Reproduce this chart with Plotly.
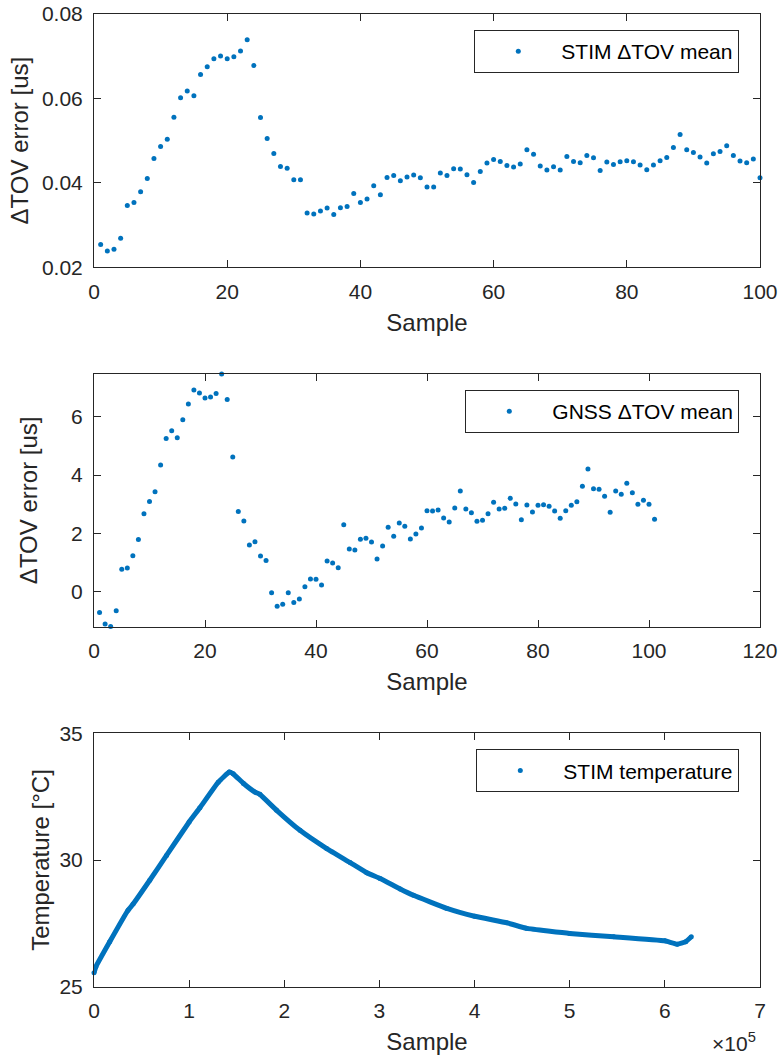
import plotly.graph_objects as go

# ---------------- data ----------------
stim_dtov = [0.02538, 0.02387, 0.02427, 0.02688, 0.03462, 0.03534, 0.03787, 0.04103, 0.04577, 0.04862,
             0.05036, 0.05557, 0.06016, 0.06174, 0.06063, 0.06569, 0.06751, 0.06941, 0.07004, 0.06941,
             0.06988, 0.07123, 0.07391, 0.06783, 0.05549, 0.05051, 0.04696, 0.04387, 0.04348, 0.04071,
             0.04071, 0.03284, 0.03261, 0.03332, 0.03403, 0.03253, 0.03410, 0.03442, 0.03751, 0.03537,
             0.03616, 0.03932, 0.03719, 0.04129, 0.04177, 0.04050, 0.04137, 0.04185, 0.04122, 0.03900,
             0.03900, 0.04232, 0.04177, 0.04335, 0.04327, 0.04193, 0.04011, 0.04272, 0.04469, 0.04556,
             0.04509, 0.04414, 0.04374, 0.04445, 0.04785, 0.04675, 0.04398, 0.04303, 0.04382, 0.04303,
             0.04627, 0.04509, 0.04477, 0.04651, 0.04596, 0.04295, 0.04493, 0.04438, 0.04500, 0.04524,
             0.04500, 0.04422, 0.04311, 0.04422, 0.04524, 0.04603, 0.04840, 0.05148, 0.04785, 0.04722,
             0.04611, 0.04469, 0.04690, 0.04745, 0.04880, 0.04651, 0.04517, 0.04477, 0.04564, 0.04122]
stim_samples = list(range(1, len(stim_dtov) + 1))

gnss_dtov = [-0.709, -1.109, -1.189, -0.651, 0.766, 0.811, 1.234, 1.794, 2.674, 3.097,
             3.429, 4.343, 5.257, 5.520, 5.280, 5.897, 6.434, 6.914, 6.811, 6.640,
             6.674, 6.800, 7.463, 6.594, 4.617, 2.754, 2.423, 1.600, 1.714, 1.223,
             1.074, -0.034, -0.503, -0.434, -0.034, -0.366, -0.251, 0.171, 0.434, 0.423,
             0.229, 1.051, 0.983, 0.824, 2.298, 1.464, 1.430, 1.795, 1.830, 1.704,
             1.121, 1.567, 2.207, 1.898, 2.355, 2.241, 1.807, 1.978, 2.184, 2.778,
             2.767, 2.801, 2.527, 2.390, 2.869, 3.452, 2.835, 2.709, 2.412, 2.447,
             2.675, 3.064, 2.835, 2.858, 3.201, 3.006, 2.469, 2.972, 2.732, 2.961,
             2.984, 2.927, 2.767, 2.515, 2.778, 2.961, 3.087, 3.612, 4.206, 3.532,
             3.509, 3.269, 2.721, 3.452, 3.338, 3.715, 3.395, 2.995, 3.132, 2.995,
             2.481]
gnss_samples = list(range(1, len(gnss_dtov) + 1))

temp_sample = [0, 2000, 16500, 35800, 41100, 58600, 76200, 100000, 111300, 130600,
               142100, 146300, 156900, 169200, 174400, 192000, 216500, 244600, 269200, 286700,
               300700, 321800, 335800, 370900, 400000, 434100, 455100, 500000, 546300, 600000,
               613000, 621800, 627800]
temp_c = [25.55, 25.79, 26.77, 28.02, 28.26, 29.20, 30.18, 31.50, 32.06, 33.07,
          33.47, 33.40, 33.03, 32.68, 32.59, 31.96, 31.17, 30.45, 29.90, 29.50,
          29.27, 28.86, 28.61, 28.09, 27.78, 27.52, 27.30, 27.10, 26.97, 26.81,
          26.68, 26.77, 26.97]

x_ticks_top = [0, 20, 40, 60, 80, 100]
y_ticks_top = [0.02, 0.04, 0.06, 0.08]
y_ticktext_top = ['0.02', '0.04', '0.06', '0.08']
x_ticks_mid = [0, 20, 40, 60, 80, 100, 120]
y_ticks_mid = [0, 2, 4, 6]
x_ticks_bot = [0, 100000, 200000, 300000, 400000, 500000, 600000, 700000]
x_ticktext_bot = ['0', '1', '2', '3', '4', '5', '6', '7']
y_ticks_bot = [25, 30, 35]

# ---------------- style ----------------
W, H = 781, 1063
BLUE = '#0072BD'
AX = '#262626'
FONT = 'Liberation Sans, Arial, sans-serif'


def fx(p):
    return p / W


def fy(p):
    return 1 - p / H


fig = go.Figure()

fig.add_trace(go.Scatter(x=stim_samples, y=stim_dtov, mode='markers', name='STIM \u0394TOV mean',
                         marker=dict(color=BLUE, size=5), xaxis='x', yaxis='y', legend='legend',
                         cliponaxis=False))
fig.add_trace(go.Scatter(x=gnss_samples, y=gnss_dtov, mode='markers', name='GNSS \u0394TOV mean',
                         marker=dict(color=BLUE, size=5), xaxis='x2', yaxis='y2', legend='legend2',
                         cliponaxis=False))
fig.add_trace(go.Scatter(x=temp_sample, y=temp_c, mode='lines', showlegend=False,
                         line=dict(color=BLUE, width=5, shape='spline', smoothing=0.3),
                         xaxis='x3', yaxis='y3', cliponaxis=False))
fig.add_trace(go.Scatter(x=temp_sample, y=temp_c, mode='markers', name='STIM temperature',
                         marker=dict(color=BLUE, size=5), xaxis='x3', yaxis='y3', legend='legend3',
                         cliponaxis=False))

common = dict(showline=True, linecolor=AX, linewidth=1, mirror='ticks', ticks='inside', ticklen=7,
              tickcolor=AX, tickwidth=1, showgrid=False, zeroline=False, automargin=False,
              tickfont=dict(size=21, color=AX, family=FONT))
xdom = [fx(94), fx(760)]


def xax(anchor, rng, tickvals, ticktext=None):
    d = dict(common, domain=xdom, anchor=anchor, range=rng, tickvals=tickvals,
             title=dict(text='Sample', font=dict(size=24, color=AX, family=FONT), standoff=12),
             ticklabelstandoff=5)
    if ticktext:
        d['ticktext'] = ticktext
    return d


def yax(anchor, dom, rng, tickvals, title, standoff, ticktext=None):
    d = dict(common, domain=dom, anchor=anchor, range=rng, tickvals=tickvals,
             title=dict(text=title, font=dict(size=24, color=AX, family=FONT), standoff=standoff),
             ticklabelstandoff=6)
    if ticktext:
        d['ticktext'] = ticktext
    return d


leg = dict(xanchor='right', yanchor='top', bordercolor=AX, borderwidth=1, bgcolor='white',
           font=dict(size=21, color='black', family=FONT), itemwidth=76)

fig.update_layout(
    width=W, height=H, margin=dict(l=0, r=0, t=0, b=0),
    paper_bgcolor='white', plot_bgcolor='white',
    font=dict(family=FONT, color=AX),
    xaxis=xax('y', [0, 100], x_ticks_top),
    yaxis=yax('x', [fy(267.3), fy(14)], [0.02, 0.08], y_ticks_top, '\u0394TOV error [us]', 6,
              y_ticktext_top),
    xaxis2=xax('y2', [0, 120], x_ticks_mid),
    yaxis2=yax('x2', [fy(626.7), fy(374)], [-1.2, 7.465], y_ticks_mid, '\u0394TOV error [us]', 26),
    xaxis3=xax('y3', [0, 700000], x_ticks_bot, x_ticktext_bot),
    yaxis3=yax('x3', [fy(986.7), fy(733.3)], [25, 35], y_ticks_bot, 'Temperature [\u00b0C]', 3),
    legend=dict(leg, x=fx(739.3), y=fy(30)),
    legend2=dict(leg, x=fx(739.3), y=fy(390)),
    legend3=dict(leg, x=fx(739.3), y=fy(749.3)),
    annotations=[dict(text='\u00d710<sup>5</sup>', x=fx(758), y=fy(1057), xref='paper', yref='paper',
                      xanchor='right', yanchor='bottom', showarrow=False,
                      font=dict(size=21, color=AX, family=FONT))],
)

fig.write_html('out.html')
